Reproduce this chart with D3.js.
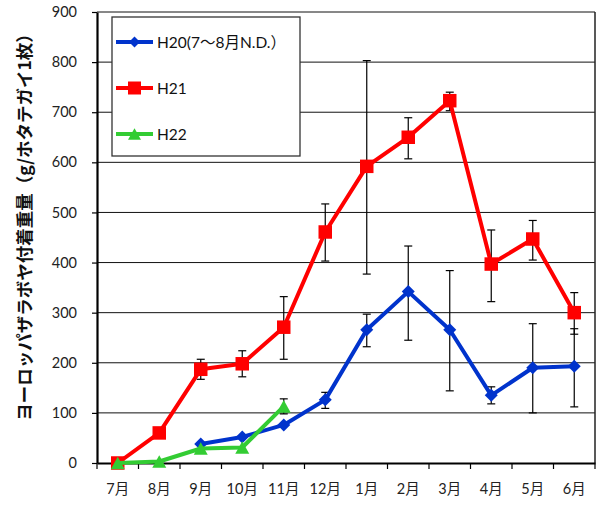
<!DOCTYPE html>
<html>
<head>
<meta charset="utf-8">
<script src="https://cdn.jsdelivr.net/npm/d3@7"></script>
<style>
  html, body { margin: 0; padding: 0; background: #fff; }
  svg { display: block; }
  text { font-family: "Lato", "Noto Sans CJK JP", sans-serif; }
</style>
</head>
<body>
<svg id="chart" width="601" height="507"></svg>
<script>
// Months (July to June)
const months = ["7月", "8月", "9月", "10月", "11月", "12月", "1月", "2月", "3月", "4月", "5月", "6月"];
const yTicks = [0, 100, 200, 300, 400, 500, 600, 700, 800, 900];

const seriesNames = ["H20(7～8月N.D.）", "H21", "H22"];

// Mean attached weight (g per scallop); null = no data
const h20 = [null, null, 38, 52, 76, 126, 266, 342, 266, 135, 190, 193];
const h21 = [0, 60, 187, 198, 271, 461, 592, 650, 723, 397, 447, 300];
const h22 = [0, 3, 29, 31, 113, null, null, null, null, null, null, null];

// Error bar ends (low / high); null = no bar
const h20Low  = [null, null, null, null, null, 109, 232, 245, 144, 118, 100, 112];
const h20High = [null, null, null, null, null, 141, 297, 433, 384, 152, 278, 268];
const h21Low  = [null, null, 167, 172, 207, 403, 377, 607, 703, 322, 405, 257];
const h21High = [null, null, 207, 224, 332, 517, 803, 689, 740, 465, 484, 340];
const h22Low  = [null, null, null, null, 98, null, null, null, null, null, null, null];
const h22High = [null, null, null, null, 128, null, null, null, null, null, null, null];

const svg = d3.select("#chart");
const plotLeft = 97, plotRight = 595, plotTop = 12, plotBottom = 463;
const labelFont = "Lato, 'Noto Sans CJK JP', sans-serif";

const x = d3.scaleBand().domain(months).range([plotLeft, plotRight]).padding(0);
const y = d3.scaleLinear().domain([0, 900]).range([plotBottom, plotTop]);
const cx = m => x(m) + x.bandwidth() / 2;

// horizontal gridlines
svg.append("g").selectAll("line").data(yTicks.filter(v => v > 0)).join("line")
  .attr("x1", plotLeft).attr("x2", plotRight)
  .attr("y1", d => y(d)).attr("y2", d => y(d))
  .attr("stroke", "#111").attr("stroke-width", 1);

// right frame line
svg.append("line")
  .attr("x1", plotRight).attr("x2", plotRight).attr("y1", y(900)).attr("y2", y(0))
  .attr("stroke", "#222").attr("stroke-width", 1.5);

// y axis
const yAxis = svg.append("g")
  .attr("transform", `translate(${plotLeft},0)`)
  .call(d3.axisLeft(y).tickValues(yTicks).tickSize(5).tickSizeOuter(0).tickPadding(15));
yAxis.select(".domain").attr("stroke", "#000").attr("stroke-width", 2.2);
yAxis.selectAll(".tick line").attr("stroke", "#000").attr("stroke-width", 1.2);
yAxis.selectAll(".tick text").attr("font-size", 14.5).attr("fill", "#222")
  .style("font-family", labelFont);

// x axis: labels centred in each month, ticks on boundaries
const xAxis = svg.append("g")
  .attr("transform", `translate(0,${plotBottom})`)
  .call(d3.axisBottom(x).tickSize(0).tickSizeOuter(0).tickPadding(21));
xAxis.select(".domain").attr("stroke", "#000").attr("stroke-width", 2.2);
xAxis.selectAll(".tick text").attr("font-size", 14.5).attr("fill", "#222")
  .style("font-family", labelFont);
const bounds = months.map(m => x(m)).concat([plotRight]);
svg.append("g").selectAll("line").data(bounds).join("line")
  .attr("x1", d => d).attr("x2", d => d)
  .attr("y1", plotBottom).attr("y2", plotBottom + 6)
  .attr("stroke", "#000").attr("stroke-width", 1.2);

// y axis title
svg.append("text")
  .attr("transform", `translate(31,223) rotate(-90)`)
  .attr("text-anchor", "middle")
  .attr("font-size", 17.5).attr("font-weight", "bold").attr("fill", "#111")
  .style("font-family", "'Noto Sans CJK JP', sans-serif")
  .text("ヨーロッパザラボヤ付着重量（g/ホタテガイ1枚）");

const series = [
  { name: seriesNames[0], values: h20, lo: h20Low, hi: h20High, color: "#0033cc", marker: "diamond" },
  { name: seriesNames[1], values: h21, lo: h21Low, hi: h21High, color: "#ff0000", marker: "square" },
  { name: seriesNames[2], values: h22, lo: h22Low, hi: h22High, color: "#33cc33", marker: "triangle" }
];

// error bars (drawn beneath the lines)
const capW = 4;
series.forEach(s => {
  const g = svg.append("g").attr("stroke", "#000").attr("stroke-width", 1.2);
  months.forEach((m, i) => {
    if (s.lo[i] == null) return;
    const px = cx(m);
    g.append("line").attr("x1", px).attr("x2", px).attr("y1", y(s.lo[i])).attr("y2", y(s.hi[i]));
    g.append("line").attr("x1", px - capW).attr("x2", px + capW).attr("y1", y(s.lo[i])).attr("y2", y(s.lo[i]));
    g.append("line").attr("x1", px - capW).attr("x2", px + capW).attr("y1", y(s.hi[i])).attr("y2", y(s.hi[i]));
  });
});

const symbolPath = (type, size) => {
  if (type === "square") return d3.symbol(d3.symbolSquare, size * size)();
  if (type === "diamond") {
    const h = size / 2;
    return `M0,${-h}L${h},0L0,${h}L${-h},0Z`;
  }
  // triangle with the data point at its vertical centre
  const w = size / 2, ht = size * 0.9;
  return `M0,${-ht / 2}L${w},${ht / 2}L${-w},${ht / 2}Z`;
};
const markerSize = { square: 13.5, diamond: 13, triangle: 14 };

const line = d3.line()
  .defined(d => d.v != null)
  .x(d => cx(d.m)).y(d => y(d.v));

series.forEach(s => {
  const pts = months.map((m, i) => ({ m, v: s.values[i] }));
  svg.append("path").datum(pts)
    .attr("d", line).attr("fill", "none")
    .attr("stroke", s.color).attr("stroke-width", 4).attr("stroke-linejoin", "round");
  svg.append("g").selectAll("path").data(pts.filter(d => d.v != null)).join("path")
    .attr("transform", d => `translate(${cx(d.m)},${y(d.v)})`)
    .attr("d", symbolPath(s.marker, markerSize[s.marker]))
    .attr("fill", s.color);
});

// legend
const leg = svg.append("g");
leg.append("rect").attr("x", 112).attr("y", 17).attr("width", 188).attr("height", 139)
  .attr("fill", "#fff").attr("stroke", "#333").attr("stroke-width", 1.3);
const legY = [42, 88, 134];
series.forEach((s, i) => {
  leg.append("line").attr("x1", 116).attr("x2", 153).attr("y1", legY[i]).attr("y2", legY[i])
    .attr("stroke", s.color).attr("stroke-width", 4);
  leg.append("path").attr("transform", `translate(134.5,${legY[i]})`)
    .attr("d", symbolPath(s.marker, s.marker === "diamond" ? 11 : 13)).attr("fill", s.color);
  leg.append("text").attr("x", 157).attr("y", legY[i]).attr("dy", "0.36em")
    .attr("font-size", 15.5).attr("fill", "#111")
    .style("font-family", labelFont)
    .text(s.name);
});
</script>
</body>
</html>
